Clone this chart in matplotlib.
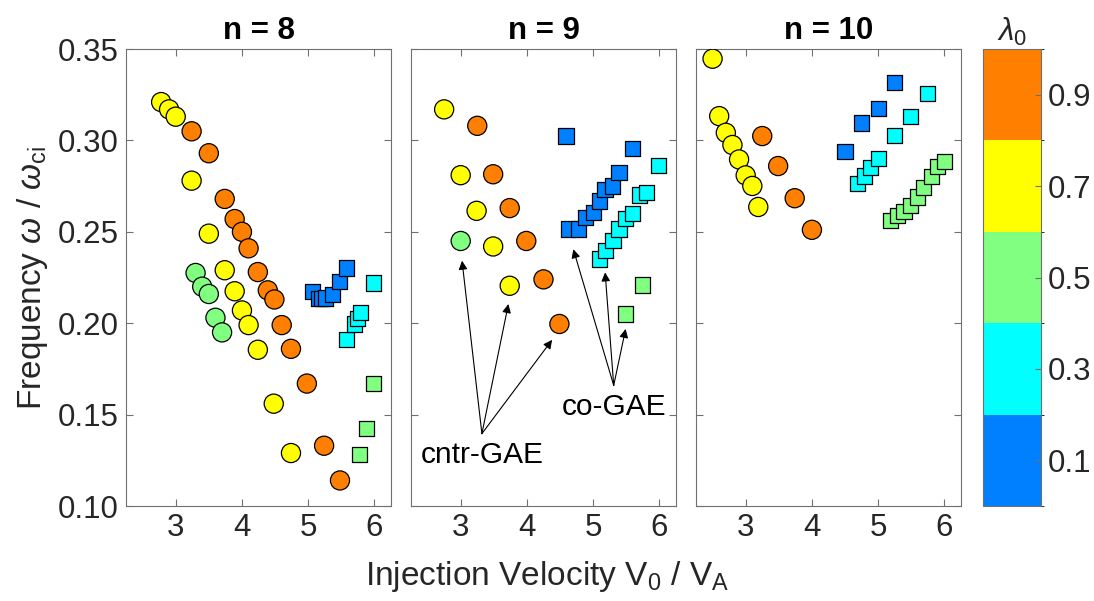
import matplotlib
matplotlib.use('Agg')
import matplotlib.pyplot as plt
from matplotlib.colors import ListedColormap, BoundaryNorm
import matplotlib.cm as cm

plt.rcParams['font.family'] = ['Liberation Sans', 'DejaVu Sans']
plt.rcParams['mathtext.fontset'] = 'custom'
plt.rcParams['mathtext.rm'] = 'Liberation Sans'
plt.rcParams['mathtext.it'] = 'Liberation Sans:italic'

# lambda_0 levels
cmap_colors = ['#0080ff', '#00ffff', '#80ff80', '#ffff00', '#ff8000']
lam_ticks = [0.1, 0.3, 0.5, 0.7, 0.9]

# ---- n = 8 ----
c8_x = [2.78, 2.90, 3.00, 3.24, 3.50, 3.74, 3.89, 4.00, 4.10, 4.24, 4.48, 4.74,
        3.24, 3.50, 3.74, 3.89, 4.00, 4.10, 4.24, 4.39, 4.49, 4.60, 4.74, 4.98, 5.24, 5.48,
        3.30, 3.40, 3.50, 3.60, 3.70]
c8_y = [0.321, 0.317, 0.313, 0.278, 0.249, 0.229, 0.2175, 0.207, 0.199, 0.1855, 0.156, 0.129,
        0.305, 0.293, 0.268, 0.257, 0.250, 0.241, 0.228, 0.218, 0.213, 0.199, 0.186, 0.167, 0.133, 0.114,
        0.2275, 0.220, 0.216, 0.203, 0.195]
c8_lam = [0.7] * 12 + [0.9] * 14 + [0.5] * 5
s8_x = [5.06, 5.16, 5.21, 5.26, 5.37, 5.47, 5.58,
        5.58, 5.70, 5.74, 5.79, 5.98,
        5.78, 5.88, 5.98]
s8_y = [0.2175, 0.2136, 0.2136, 0.2138, 0.2156, 0.2229, 0.2302,
        0.191, 0.1996, 0.2024, 0.206, 0.222,
        0.128, 0.1424, 0.167]
s8_lam = [0.1] * 7 + [0.3] * 5 + [0.5] * 3

# ---- n = 9 ----
c9_x = [2.75, 3.00, 3.24, 3.49, 3.74,
        3.25, 3.49, 3.74, 3.99, 4.25, 4.49,
        3.00]
c9_y = [0.317, 0.281, 0.2615, 0.242, 0.2205,
        0.308, 0.2815, 0.263, 0.245, 0.224, 0.1996,
        0.245]
c9_lam = [0.7] * 5 + [0.9] * 6 + [0.5]
s9_x = [4.59, 4.63, 4.78, 4.88, 5.00, 5.09, 5.18, 5.29, 5.39, 5.59,
        5.09, 5.19, 5.30, 5.39, 5.49, 5.59, 5.70, 5.80, 5.99,
        5.49, 5.74]
s9_y = [0.3024, 0.2515, 0.2515, 0.2578, 0.2605, 0.2669, 0.2733, 0.2751, 0.2824, 0.2958,
        0.2351, 0.240, 0.2451, 0.2515, 0.2573, 0.2602, 0.2702, 0.2715, 0.2864,
        0.2051, 0.2209]
s9_lam = [0.1] * 10 + [0.3] * 9 + [0.5] * 2

# ---- n = 10 ----
c10_x = [2.50, 2.60, 2.70, 2.80, 2.90, 3.00, 3.10, 3.19,
         3.25, 3.49, 3.74, 4.00]
c10_y = [0.3447, 0.3133, 0.3042, 0.2975, 0.2896, 0.2809, 0.2751, 0.2636,
         0.3024, 0.286, 0.2684, 0.2511]
c10_lam = [0.7] * 8 + [0.9] * 4
s10_x = [4.50, 4.75, 5.00, 5.25,
         4.69, 4.79, 4.89, 5.00, 5.25, 5.49, 5.75,
         5.19, 5.29, 5.39, 5.49, 5.59, 5.69, 5.80, 5.90, 6.00]
s10_y = [0.2938, 0.3096, 0.3175, 0.3315,
         0.2764, 0.2805, 0.2851, 0.2902, 0.3029, 0.3133, 0.3256,
         0.256, 0.2591, 0.2611, 0.2645, 0.2691, 0.2742, 0.2802, 0.2856, 0.2884]
s10_lam = [0.1] * 4 + [0.3] * 7 + [0.5] * 9

panels = [
    ('n = 8', c8_x, c8_y, c8_lam, s8_x, s8_y, s8_lam),
    ('n = 9', c9_x, c9_y, c9_lam, s9_x, s9_y, s9_lam),
    ('n = 10', c10_x, c10_y, c10_lam, s10_x, s10_y, s10_lam),
]

cmap = ListedColormap(cmap_colors)
norm = BoundaryNorm([0, 0.2, 0.4, 0.6, 0.8, 1.0], cmap.N)

txt = '#262626'
spine_col = '#707070'
fs = 22.5
fs_lab = 24

fig = plt.figure(figsize=(10.94, 6.01), dpi=100)
lefts = [0.1152, 0.3757, 0.6362]
axes = []
for i, (title, cx, cy, cl, sx, sy, sl) in enumerate(panels):
    ax = fig.add_axes([lefts[i], 0.158, 0.2422, 0.7604])
    ax.scatter(cx, cy, c=cl, cmap=cmap, norm=norm, s=190, marker='o',
               edgecolors='black', linewidths=0.9, zorder=3)
    ax.scatter(sx, sy, c=sl, cmap=cmap, norm=norm, s=120, marker='s',
               edgecolors='black', linewidths=0.9, zorder=3)
    ax.set_xlim(2.25, 6.25)
    ax.set_ylim(0.10, 0.35)
    ax.set_xticks([3, 4, 5, 6])
    ax.set_yticks([0.10, 0.15, 0.20, 0.25, 0.30, 0.35])
    ax.tick_params(direction='in', top=True, right=True, length=5, width=0.8,
                   color=spine_col, labelsize=fs, labelcolor=txt, pad=5)
    if i == 0:
        ax.set_yticklabels(['0.10', '0.15', '0.20', '0.25', '0.30', '0.35'])
        ax.set_ylabel(r'Frequency $\omega$ / $\omega_{\mathrm{ci}}$', fontsize=fs_lab,
                      color=txt, labelpad=6)
    else:
        ax.set_yticklabels([])
    for sp in ax.spines.values():
        sp.set_color(spine_col)
        sp.set_linewidth(0.8)
    ax.set_title(title, fontsize=fs, fontweight='bold', color='black', pad=7)
    axes.append(ax)

fig.text(0.5, 0.04, r'Injection Velocity V$_0$ / V$_\mathrm{A}$', fontsize=fs_lab,
         color=txt, ha='center', va='center')

# annotations in the n = 9 panel
ax = axes[1]
arr = dict(arrowstyle='-|>', color='black', lw=0.8, mutation_scale=13,
           shrinkA=0, shrinkB=0)
for tx, ty in [(3.02, 0.2342), (3.72, 0.2105), (4.38, 0.1909)]:
    ax.annotate('', xy=(tx, ty), xytext=(3.32, 0.1396), arrowprops=arr)
for tx, ty in [(4.70, 0.2405), (5.18, 0.2278), (5.49, 0.1969)]:
    ax.annotate('', xy=(tx, ty), xytext=(5.31, 0.166), arrowprops=arr)
ax.text(3.32, 0.128, 'cntr-GAE', fontsize=21.5, color='black', ha='center', va='center')
ax.text(5.31, 0.154, 'co-GAE', fontsize=21.5, color='black', ha='center', va='center')

# colorbar
cax = fig.add_axes([0.8985, 0.158, 0.053, 0.7604])
cb = fig.colorbar(cm.ScalarMappable(norm=norm, cmap=cmap), cax=cax,
                  ticks=lam_ticks)
cb.ax.set_yticklabels(['0.1', '0.3', '0.5', '0.7', '0.9'])
cb.ax.tick_params(direction='in', length=4, width=0.8, color=spine_col,
                  labelsize=fs, labelcolor=txt, pad=5)
cb.outline.set_edgecolor(spine_col)
cb.outline.set_linewidth(0.8)
cb.ax.set_title(r'$\lambda_0$', fontsize=fs, color=txt, pad=6)

fig.savefig('out.png', dpi=100)
